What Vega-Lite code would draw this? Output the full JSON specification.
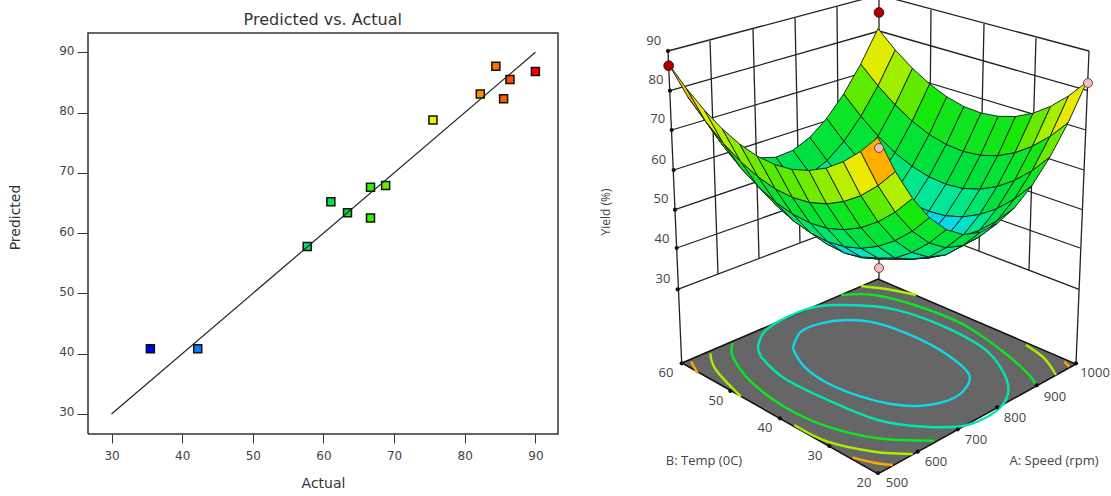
{
"$schema":"https://vega.github.io/schema/vega-lite/v6.json",
"padding":{"left":8,"top":0,"right":0,"bottom":0},
"spacing":39,
"config":{"view":{"stroke":null}},
"resolve":{"scale":{"color":"independent"}},
"datasets":{
"points":[
{"a":35.5,"p":40.83},{"a":42.2,"p":40.83},{"a":57.7,"p":57.8},{"a":61.05,"p":65.2},{"a":63.4,"p":63.4},{"a":66.66,"p":67.6},{"a":66.66,"p":62.5},{"a":68.8,"p":67.9},{"a":75.5,"p":78.75},{"a":82.2,"p":83.1},{"a":84.4,"p":87.7},{"a":86.4,"p":85.5},{"a":85.5,"p":82.3},{"a":90,"p":86.8}],
"fit":[{"a":30,"p":30},{"a":90,"p":90}],
"frame":[{"a":26.67,"p":26.67,"o":0},{"a":93.2,"p":26.67,"o":1},{"a":93.2,"p":93.2,"o":2},{"a":26.67,"p":93.2,"o":3},{"a":26.67,"p":26.67,"o":4}],
"walls":[
{"s":"l90","x":667,"y":51},{"s":"l90","x":878,"y":-5},{"s":"l80","x":669,"y":90.7},{"s":"l80","x":878,"y":31},{"s":"l70","x":670.7,"y":130},{"s":"l70","x":878,"y":68},{"s":"l60","x":672.7,"y":170},{"s":"l60","x":878,"y":104},{"s":"l50","x":674,"y":209.7},{"s":"l50","x":878,"y":140},{"s":"l40","x":675.7,"y":248},{"s":"l40","x":878,"y":177},{"s":"l30","x":676.7,"y":289.3},{"s":"l30","x":878,"y":213},
{"s":"r90","x":878,"y":-5},{"s":"r90","x":1088,"y":51},{"s":"r80","x":878,"y":31},{"s":"r80","x":1087,"y":90.7},{"s":"r70","x":878,"y":68},{"s":"r70","x":1085,"y":130},{"s":"r60","x":878,"y":104},{"s":"r60","x":1083,"y":170},{"s":"r50","x":878,"y":140},{"s":"r50","x":1081,"y":209.5},{"s":"r40","x":878,"y":177},{"s":"r40","x":1079,"y":248},{"s":"r30","x":878,"y":213},{"s":"r30","x":1078,"y":289.3},
{"s":"v1","x":709,"y":41},{"s":"v1","x":717,"y":274},{"s":"v2","x":752,"y":29},{"s":"v2","x":758,"y":258},{"s":"v3","x":794,"y":18},{"s":"v3","x":799,"y":243},{"s":"v4","x":836,"y":7},{"s":"v4","x":838,"y":228},
{"s":"v5","x":930,"y":10},{"s":"v5","x":928,"y":232},{"s":"v6","x":983,"y":24},{"s":"v6","x":978,"y":251},{"s":"v7","x":1035,"y":38},{"s":"v7","x":1028,"y":270},
{"s":"al","x":667,"y":51},{"s":"al","x":680.7,"y":363},{"s":"ar","x":1088,"y":51},{"s":"ar","x":1075,"y":364},{"s":"ab","x":878,"y":-5},{"s":"ab","x":878,"y":279}],
"floor":[{"x":681,"y":363,"o":0},{"x":877,"y":279,"o":1},{"x":1075,"y":364,"o":2},{"x":877,"y":474,"o":3}],
"contours":[
{"s":"a","z":44,"x":791.7,"y":348.3},{"s":"a","z":44,"x":800,"y":331.7},{"s":"a","z":44,"x":820,"y":323.3},{"s":"a","z":44,"x":846.7,"y":320},{"s":"a","z":44,"x":876.7,"y":323.3},{"s":"a","z":44,"x":913.3,"y":336.7},{"s":"a","z":44,"x":946.7,"y":355},{"s":"a","z":44,"x":968.3,"y":375},{"s":"a","z":44,"x":961.7,"y":391.7},{"s":"a","z":44,"x":943.3,"y":401.7},{"s":"a","z":44,"x":916.7,"y":406},{"s":"a","z":44,"x":890,"y":404},{"s":"a","z":44,"x":860,"y":396.7},{"s":"a","z":44,"x":826.7,"y":383.3},{"s":"a","z":44,"x":803.3,"y":366.7},{"s":"a","z":44,"x":791.7,"y":348.3},
{"s":"b","z":47,"x":760,"y":356.7},{"s":"b","z":47,"x":757.3,"y":345},{"s":"b","z":47,"x":768.3,"y":327.3},{"s":"b","z":47,"x":808.3,"y":308.3},{"s":"b","z":47,"x":846.7,"y":305},{"s":"b","z":47,"x":893.3,"y":309.3},{"s":"b","z":47,"x":943.3,"y":326.7},{"s":"b","z":47,"x":986.7,"y":351.7},{"s":"b","z":47,"x":1006.7,"y":383.3},{"s":"b","z":47,"x":1000,"y":406.7},{"s":"b","z":47,"x":966.7,"y":425},{"s":"b","z":47,"x":923.3,"y":426.7},{"s":"b","z":47,"x":876.7,"y":420},{"s":"b","z":47,"x":826.7,"y":400},{"s":"b","z":47,"x":783.3,"y":378.3},{"s":"b","z":47,"x":760,"y":356.7},
{"s":"c1","z":60,"x":840,"y":295},{"s":"c1","z":60,"x":873.3,"y":295},{"s":"c1","z":60,"x":913.3,"y":305},{"s":"c1","z":60,"x":960,"y":323.3},{"s":"c1","z":60,"x":1000,"y":350},{"s":"c1","z":60,"x":1026.7,"y":373.3},{"s":"c1","z":60,"x":1035,"y":385},
{"s":"c2","z":60,"x":731.7,"y":343.3},{"s":"c2","z":60,"x":731.7,"y":356.7},{"s":"c2","z":60,"x":750,"y":381.7},{"s":"c2","z":60,"x":783.3,"y":406.7},{"s":"c2","z":60,"x":826.7,"y":426.7},{"s":"c2","z":60,"x":876.7,"y":438.3},{"s":"c2","z":60,"x":933.3,"y":440.7},
{"s":"d1","z":71,"x":860,"y":286},{"s":"d1","z":71,"x":886.7,"y":289.3},{"s":"d1","z":71,"x":915,"y":295},
{"s":"d2","z":71,"x":1025,"y":345},{"s":"d2","z":71,"x":1043.3,"y":358.3},{"s":"d2","z":71,"x":1055,"y":375},
{"s":"d3","z":71,"x":709.3,"y":353.3},{"s":"d3","z":71,"x":715,"y":370},{"s":"d3","z":71,"x":740,"y":396.7},
{"s":"d4","z":71,"x":793.3,"y":425},{"s":"d4","z":71,"x":826.7,"y":441.7},{"s":"d4","z":71,"x":873.3,"y":451.7},{"s":"d4","z":71,"x":911.7,"y":454},
{"s":"e1","z":81,"x":690,"y":361.7},{"s":"e1","z":81,"x":696.7,"y":373.3},
{"s":"e2","z":81,"x":1063.3,"y":361.7},{"s":"e2","z":81,"x":1068.3,"y":366.7},
{"s":"e3","z":81,"x":851.7,"y":457.3},{"s":"e3","z":81,"x":873.3,"y":462.7},{"s":"e3","z":81,"x":891.7,"y":465}],
"ticks":[{"x":667,"y":51},{"x":669,"y":90.7},{"x":670.7,"y":130},{"x":672.7,"y":170},{"x":674,"y":209.7},{"x":675.7,"y":248},{"x":676.7,"y":289.3},{"x":877,"y":473},{"x":916.7,"y":451.7},{"x":956.7,"y":429.3},{"x":996,"y":407.3},{"x":1035.7,"y":385.3},{"x":1075,"y":363.3},{"x":828.3,"y":446},{"x":779,"y":418.3},{"x":729.3,"y":391},{"x":680.7,"y":363.3}],
"labels":[{"t":"90","x":652.7,"y":41},{"t":"80","x":655,"y":80},{"t":"70","x":656.7,"y":119},{"t":"60","x":657.7,"y":160},{"t":"50","x":660,"y":199},{"t":"40","x":661,"y":239},{"t":"30","x":662,"y":279},
{"t":"60","x":665,"y":373},{"t":"50","x":715,"y":401},{"t":"40","x":764,"y":428},{"t":"30","x":814,"y":456},{"t":"20","x":863,"y":483},
{"t":"500","x":896,"y":483},{"t":"600","x":935,"y":462},{"t":"700","x":975,"y":440},{"t":"800","x":1014,"y":418},{"t":"900","x":1054,"y":397},{"t":"1000","x":1094,"y":373},
{"t":"B: Temp (0C)","x":703,"y":461},{"t":"A: Speed (rpm)","x":1053,"y":461}],
"surface":[
{"i":12,"j":12,"x":877,"y":28.6,"z":81.5},
{"i":12,"j":11,"x":894.3,"y":50,"z":76.7},{"i":11,"j":12,"x":859.7,"y":64.1,"z":72.8},
{"i":12,"j":10,"x":911.5,"y":68.4,"z":72.7},{"i":11,"j":11,"x":877,"y":85.9,"z":67.9},{"i":10,"j":12,"x":842.7,"y":94,"z":65.7},
{"i":12,"j":9,"x":928.7,"y":84,"z":69.7},{"i":11,"j":10,"x":894.1,"y":104.9,"z":64},{"i":10,"j":11,"x":859.9,"y":116.3,"z":60.9},{"i":9,"j":12,"x":825.7,"y":118.4,"z":60.3},
{"i":12,"j":8,"x":945.8,"y":96.8,"z":67.5},{"i":11,"j":9,"x":911.2,"y":121.2,"z":60.9},{"i":10,"j":10,"x":877,"y":136,"z":57},{"i":9,"j":11,"x":842.9,"y":141.4,"z":55.5},{"i":8,"j":12,"x":808.8,"y":137.3,"z":56.6},
{"i":12,"j":7,"x":962.9,"y":106.6,"z":66.2},{"i":11,"j":8,"x":928.2,"y":134.5,"z":58.8},{"i":10,"j":9,"x":894,"y":152.8,"z":53.9},{"i":9,"j":10,"x":860,"y":161.5,"z":51.6},{"i":8,"j":11,"x":826.1,"y":160.7,"z":51.8},{"i":7,"j":12,"x":791.9,"y":150.3,"z":54.5},
{"i":12,"j":6,"x":980,"y":113,"z":65.9},{"i":11,"j":7,"x":945.2,"y":144.5,"z":57.5},{"i":10,"j":8,"x":911,"y":166.3,"z":51.7},{"i":9,"j":9,"x":877,"y":178.5,"z":48.5},{"i":8,"j":10,"x":843.1,"y":181,"z":47.8},{"i":7,"j":11,"x":809.2,"y":173.9,"z":49.7},{"i":6,"j":12,"x":774.9,"y":157.2,"z":54.2},
{"i":12,"j":5,"x":997.3,"y":116.3,"z":66.4},{"i":11,"j":6,"x":962.3,"y":151.5,"z":57.1},{"i":10,"j":7,"x":927.9,"y":176.8,"z":50.5},{"i":9,"j":8,"x":893.9,"y":192.6,"z":46.3},{"i":8,"j":9,"x":860.1,"y":198.5,"z":44.8},{"i":7,"j":10,"x":826.3,"y":194.7,"z":45.8},{"i":6,"j":11,"x":792.2,"y":181.2,"z":49.3},{"i":5,"j":12,"x":757.8,"y":157.9,"z":55.4},
{"i":12,"j":4,"x":1014.6,"y":116.5,"z":67.7},{"i":11,"j":5,"x":979.4,"y":155.3,"z":57.6},{"i":10,"j":6,"x":944.8,"y":184.3,"z":50.1},{"i":9,"j":7,"x":910.8,"y":203.6,"z":45.1},{"i":8,"j":8,"x":877,"y":213,"z":42.6},{"i":7,"j":9,"x":843.3,"y":212.6,"z":42.7},{"i":6,"j":10,"x":809.4,"y":202.3,"z":45.4},{"i":5,"j":11,"x":775.2,"y":182.3,"z":50.6},{"i":4,"j":12,"x":740.4,"y":152.5,"z":58.4},
{"i":12,"j":3,"x":1032.1,"y":113.2,"z":70},{"i":11,"j":4,"x":996.6,"y":155.8,"z":59},{"i":10,"j":5,"x":961.9,"y":188.5,"z":50.6},{"i":9,"j":6,"x":927.7,"y":211.3,"z":44.7},{"i":8,"j":7,"x":893.8,"y":224.2,"z":41.3},{"i":7,"j":8,"x":860.2,"y":227.3,"z":40.6},{"i":6,"j":9,"x":826.4,"y":220.4,"z":42.3},{"i":5,"j":10,"x":792.4,"y":203.7,"z":46.7},{"i":4,"j":11,"x":757.9,"y":177,"z":53.5},{"i":3,"j":12,"x":722.7,"y":140.5,"z":63},
{"i":12,"j":2,"x":1049.7,"y":106.3,"z":73.2},{"i":11,"j":3,"x":1013.9,"y":152.8,"z":61.3},{"i":10,"j":4,"x":978.9,"y":189.2,"z":52},{"i":9,"j":5,"x":944.6,"y":215.8,"z":45.2},{"i":8,"j":6,"x":910.7,"y":232.2,"z":41},{"i":7,"j":7,"x":877,"y":238.8,"z":39.3},{"i":6,"j":8,"x":843.3,"y":235.3,"z":40.2},{"i":5,"j":9,"x":809.5,"y":221.9,"z":43.6},{"i":4,"j":10,"x":775.3,"y":198.5,"z":49.6},{"i":3,"j":11,"x":740.4,"y":165.1,"z":58.2},{"i":2,"j":12,"x":704.8,"y":121.7,"z":69.3},
{"i":12,"j":1,"x":1067.6,"y":95.9,"z":77.3},{"i":11,"j":2,"x":1031.4,"y":146.3,"z":64.5},{"i":10,"j":3,"x":996.1,"y":186.6,"z":54.2},{"i":9,"j":4,"x":961.6,"y":216.9,"z":46.6},{"i":8,"j":5,"x":927.5,"y":237,"z":41.5},{"i":7,"j":6,"x":893.8,"y":247.1,"z":38.9},{"i":6,"j":7,"x":860.2,"y":247.1,"z":38.9},{"i":5,"j":8,"x":826.5,"y":237.1,"z":41.4},{"i":4,"j":9,"x":792.4,"y":217,"z":46.5},{"i":3,"j":10,"x":757.9,"y":186.7,"z":54.2},{"i":2,"j":11,"x":722.6,"y":146.5,"z":64.4},{"i":1,"j":12,"x":686.4,"y":96.2,"z":77.2},
{"i":12,"j":0,"x":1085.7,"y":82.1,"z":82.2},{"i":11,"j":1,"x":1049.1,"y":136.4,"z":68.5},{"i":10,"j":2,"x":1013.5,"y":180.5,"z":57.4},{"i":9,"j":3,"x":978.6,"y":214.5,"z":48.8},{"i":8,"j":4,"x":944.4,"y":238.3,"z":42.8},{"i":7,"j":5,"x":910.6,"y":252,"z":39.4},{"i":6,"j":6,"x":877,"y":255.6,"z":38.5},{"i":5,"j":7,"x":843.3,"y":249,"z":40.2},{"i":4,"j":8,"x":809.5,"y":232.3,"z":44.4},{"i":3,"j":9,"x":775.1,"y":205.3,"z":51.2},{"i":2,"j":10,"x":740.2,"y":168.3,"z":60.5},{"i":1,"j":11,"x":704.4,"y":121.1,"z":72.4},{"i":0,"j":12,"x":667.5,"y":63.8,"z":86.8},
{"i":11,"j":0,"x":1067.1,"y":122.8,"z":73.5},{"i":10,"j":1,"x":1031,"y":170.8,"z":61.5},{"i":9,"j":2,"x":995.9,"y":208.7,"z":52},{"i":8,"j":3,"x":961.4,"y":236.2,"z":45.1},{"i":7,"j":4,"x":927.5,"y":253.6,"z":40.8},{"i":6,"j":5,"x":893.8,"y":258,"z":39},{"i":5,"j":6,"x":860.2,"y":257.6,"z":39.8},{"i":4,"j":7,"x":826.4,"y":244.3,"z":43.1},{"i":3,"j":8,"x":792.3,"y":220.7,"z":49},{"i":2,"j":9,"x":757.6,"y":187,"z":57.4},{"i":1,"j":10,"x":722.1,"y":143,"z":68.4},{"i":0,"j":11,"x":685.7,"y":88.8,"z":82},
{"i":10,"j":0,"x":1048.8,"y":157.2,"z":66.4},{"i":9,"j":1,"x":1013.3,"y":199,"z":56.1},{"i":8,"j":2,"x":978.6,"y":230.4,"z":48.3},{"i":7,"j":3,"x":944.5,"y":251.5,"z":43.1},{"i":6,"j":4,"x":910.7,"y":259,"z":40.4},{"i":5,"j":5,"x":877,"y":259,"z":40.3},{"i":4,"j":6,"x":843.3,"y":252.9,"z":42.7},{"i":3,"j":7,"x":809.3,"y":232.7,"z":47.7},{"i":2,"j":8,"x":774.8,"y":202.3,"z":55.3},{"i":1,"j":9,"x":739.6,"y":161.5,"z":65.4},{"i":0,"j":10,"x":703.6,"y":110.4,"z":78},
{"i":9,"j":0,"x":1031,"y":185.6,"z":61},{"i":8,"j":1,"x":995.9,"y":220.9,"z":52.4},{"i":7,"j":2,"x":961.6,"y":245.8,"z":46.2},{"i":6,"j":3,"x":927.6,"y":258,"z":42.7},{"i":5,"j":4,"x":893.9,"y":259,"z":41.7},{"i":4,"j":5,"x":860.1,"y":257,"z":43.2},{"i":3,"j":6,"x":826.2,"y":241.4,"z":47.3},{"i":2,"j":7,"x":791.9,"y":214.3,"z":54},{"i":1,"j":8,"x":757,"y":176.8,"z":63.2},{"i":0,"j":9,"x":721.3,"y":128.9,"z":75},
{"i":8,"j":0,"x":1013.5,"y":207.8,"z":57.3},{"i":7,"j":1,"x":978.8,"y":236.5,"z":50.3},{"i":6,"j":2,"x":944.6,"y":254.8,"z":45.8},{"i":5,"j":3,"x":910.8,"y":259,"z":43.9},{"i":4,"j":4,"x":877,"y":258,"z":44.6},{"i":3,"j":5,"x":843.1,"y":246.6,"z":47.8},{"i":2,"j":6,"x":809,"y":222.9,"z":53.6},{"i":1,"j":7,"x":774.3,"y":188.8,"z":61.9},{"i":0,"j":8,"x":738.8,"y":144.2,"z":72.8},
{"i":7,"j":0,"x":996.2,"y":223.5,"z":55.2},{"i":6,"j":1,"x":961.8,"y":245.5,"z":49.9},{"i":5,"j":2,"x":927.8,"y":257,"z":47.1},{"i":4,"j":3,"x":893.9,"y":258,"z":46.9},{"i":3,"j":4,"x":860.1,"y":248.3,"z":49.2},{"i":2,"j":5,"x":825.9,"y":228.2,"z":54.1},{"i":1,"j":6,"x":791.4,"y":197.4,"z":61.5},{"i":0,"j":7,"x":756.2,"y":156.1,"z":71.5},
{"i":6,"j":0,"x":979.2,"y":232.4,"z":54.9},{"i":5,"j":1,"x":944.9,"y":247.7,"z":51.2},{"i":4,"j":2,"x":910.9,"y":252.4,"z":50},{"i":3,"j":3,"x":877,"y":246.3,"z":51.5},{"i":2,"j":4,"x":842.9,"y":229.7,"z":55.5},{"i":1,"j":5,"x":808.5,"y":202.4,"z":62},{"i":0,"j":6,"x":773.5,"y":164.5,"z":71.2},
{"i":5,"j":0,"x":962.2,"y":234.5,"z":56.1},{"i":4,"j":1,"x":928.1,"y":242.9,"z":54.1},{"i":3,"j":2,"x":894,"y":240.6,"z":54.7},{"i":2,"j":3,"x":859.9,"y":227.6,"z":57.8},{"i":1,"j":4,"x":825.6,"y":203.8,"z":63.4},{"i":0,"j":5,"x":790.7,"y":169.3,"z":71.7},
{"i":4,"j":0,"x":945.3,"y":229.7,"z":59.1},{"i":3,"j":1,"x":911.2,"y":231.1,"z":58.7},{"i":2,"j":2,"x":877,"y":221.7,"z":60.9},{"i":1,"j":3,"x":842.7,"y":201.5,"z":65.7},{"i":0,"j":4,"x":807.9,"y":170.5,"z":73},
{"i":3,"j":0,"x":928.4,"y":217.7,"z":63.7},{"i":2,"j":1,"x":894.2,"y":212.1,"z":65},{"i":1,"j":2,"x":859.8,"y":195.6,"z":68.9},{"i":0,"j":3,"x":825.1,"y":168.1,"z":75.3},
{"i":2,"j":0,"x":911.5,"y":198.4,"z":70},{"i":1,"j":1,"x":877,"y":185.6,"z":72.9},{"i":0,"j":2,"x":842.3,"y":161.7,"z":78.5},
{"i":1,"j":0,"x":894.3,"y":171.5,"z":77.9},{"i":0,"j":1,"x":859.6,"y":151.4,"z":82.6},
{"i":0,"j":0,"x":877,"y":137.3,"z":87.5}],
"dark":[{"x":667.7,"y":65.7},{"x":878,"y":12.5}],
"pink":[{"x":1087,"y":83},{"x":878,"y":148},{"x":878,"y":268}]
},
"hconcat":[
{"width":470,"height":434,
"layer":[
{"data":{"name":"frame"},"mark":{"type":"line","color":"#333333","strokeWidth":1.5},"encoding":{"order":{"field":"o"},
"x":{"field":"a","type":"quantitative","title":"Actual","scale":{"domain":[26.67,93.2],"nice":false,"zero":false},"axis":{"values":[30,40,50,60,70,80,90],"grid":false,"domain":false,"tickSize":9,"tickColor":"#333333","labelFont":"DejaVu Sans","labelFontSize":12,"labelColor":"#444444","labelPadding":7,"titleFont":"DejaVu Sans","titleFontSize":14,"titleFontWeight":"normal","titleColor":"#333333","titlePadding":15}},
"y":{"field":"p","type":"quantitative","title":"Predicted","scale":{"domain":[26.67,98.68],"nice":false,"zero":false},"axis":{"values":[30,40,50,60,70,80,90],"grid":false,"domain":false,"tickSize":11,"tickColor":"#333333","labelFont":"DejaVu Sans","labelFontSize":12,"labelColor":"#444444","labelPadding":3,"labelOffset":-2,"titleFont":"DejaVu Sans","titleFontSize":14,"titleFontWeight":"normal","titleColor":"#333333","titlePadding":36}}}},
{"data":{"name":"points"},"mark":{"type":"square","size":64,"filled":true,"stroke":"#111111","strokeWidth":1.5,"opacity":1},
"encoding":{
"x":{"field":"a","type":"quantitative"},
"y":{"field":"p","type":"quantitative"},
"color":{"field":"a","type":"quantitative","legend":null,"scale":{"domain":[35.5,42.2,57.7,63,66.7,68.8,75.5,82.2,84.4,86,90],"range":["#0000ff","#0080ff","#00e870","#00e030","#30f000","#60f000","#e8f000","#ff9000","#ff7000","#ff5000","#ff0000"]}}}},
{"data":{"name":"fit"},"mark":{"type":"line","color":"#222222","strokeWidth":1.2},"encoding":{"x":{"field":"a","type":"quantitative"},"y":{"field":"p","type":"quantitative"}}},
{"data":{"values":[{"t":"Predicted vs. Actual","a":59.9,"p":95.36}]},"mark":{"type":"text","font":"DejaVu Sans","fontSize":16,"color":"#333333"},"encoding":{"text":{"field":"t"},"x":{"field":"a","type":"quantitative"},"y":{"field":"p","type":"quantitative"}}}
]},
{"width":500,"height":496,
"encoding":{
"x":{"field":"x","type":"quantitative","axis":null,"scale":{"domain":[611,1111],"nice":false,"zero":false}},
"y":{"field":"y","type":"quantitative","axis":null,"scale":{"domain":[496,0],"nice":false,"zero":false}}},
"layer":[
{"data":{"name":"walls"},"mark":{"type":"line","color":"#222222","strokeWidth":1.3,"clip":true},"encoding":{"detail":{"field":"s"},"order":{"field":"y"}}},
{"data":{"name":"floor"},"mark":{"type":"line","filled":true,"fill":"#666666","stroke":"#111111","strokeWidth":1.5,"interpolate":"linear-closed"},"encoding":{"order":{"field":"o"}}},
{"data":{"name":"contours"},"transform":[{"window":[{"op":"row_number","as":"n"}]}],"mark":{"type":"line","strokeWidth":2.4,"interpolate":"cardinal"},"encoding":{"detail":{"field":"s"},"order":{"field":"n"},"stroke":{"field":"z","type":"quantitative","legend":null,"scale":{"domain":[38,44,48,53,65,72,76,80,88],"range":["#18c8ff","#10d8e8","#00e890","#00e040","#18e800","#b8f000","#f0e800","#ffb000","#ff6000"]}}}},
{"data":{"name":"ticks"},"mark":{"type":"circle","size":18,"color":"#111111","opacity":1}},
{"data":{"name":"labels"},"mark":{"type":"text","font":"Open Sans","fontSize":13,"color":"#444444"},"encoding":{"text":{"field":"t"}}},
{"data":{"values":[{"t":"Yield (%)","x":605,"y":212}]},"mark":{"type":"text","font":"Open Sans","fontSize":12,"color":"#444444","angle":270},"encoding":{"text":{"field":"t"}}},
{"data":{"name":"surface"},"transform":[
{"calculate":"[0,1,2,3]","as":"c"},{"flatten":["c"]},
{"calculate":"datum.i-[0,1,1,0][datum.c]","as":"qi"},
{"calculate":"datum.j-[0,0,1,1][datum.c]","as":"qj"},
{"filter":"datum.qi>=0&&datum.qi<12&&datum.qj>=0&&datum.qj<12"},
{"calculate":"datum.qi+'_'+datum.qj","as":"q"},
{"joinaggregate":[{"op":"mean","field":"z","as":"zq"}],"groupby":["q"]}],
"mark":{"type":"line","filled":true,"interpolate":"linear-closed","stroke":"#1c2a1c","strokeWidth":1},
"encoding":{"detail":{"field":"q"},"order":{"field":"c"},"color":{"field":"zq","type":"quantitative","legend":null,"scale":{"domain":[38,44,48,53,65,72,76,80,88],"range":["#18c8ff","#10d8e8","#00e890","#00e040","#18e800","#b8f000","#f0e800","#ffb000","#ff6000"]}}}},
{"data":{"name":"dark"},"mark":{"type":"circle","size":95,"color":"#a80000","stroke":"#551111","strokeWidth":1,"opacity":1}},
{"data":{"name":"pink"},"mark":{"type":"circle","size":80,"color":"#f4bcbc","stroke":"#704040","strokeWidth":1,"opacity":1}}
]}
]
}
